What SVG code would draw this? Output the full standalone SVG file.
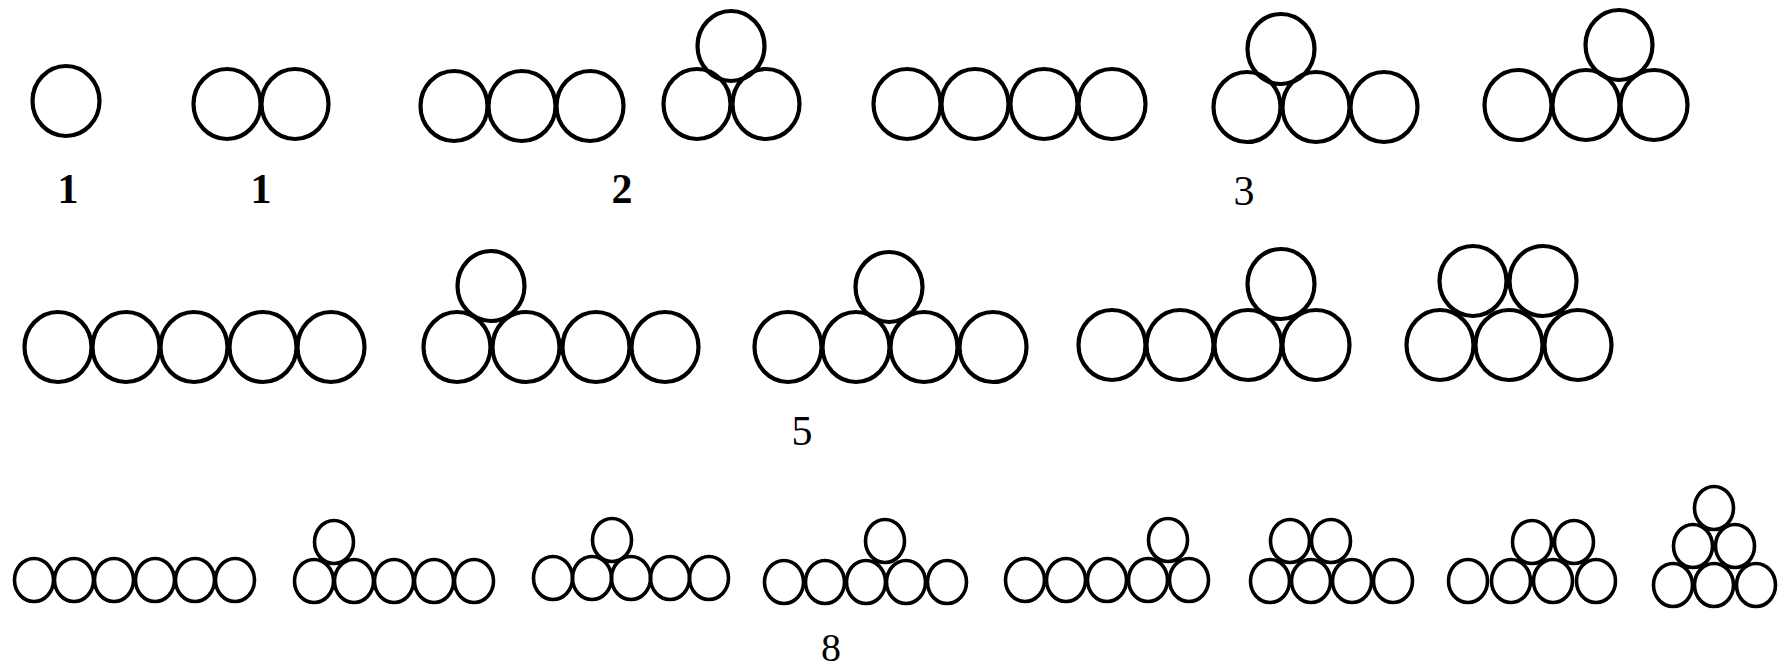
<svg xmlns="http://www.w3.org/2000/svg" xmlns:xlink="http://www.w3.org/1999/xlink" width="1779" height="672" viewBox="0 0 1779 672">
<style>
.c{fill:none;stroke:#000;stroke-width:4.2}
.s{fill:none;stroke:#000;stroke-width:3.6}
.lab{font-family:"Liberation Serif","DejaVu Serif",serif;font-size:42px;fill:#000;text-anchor:middle}
.bd{font-weight:bold}
</style>
<defs>
<ellipse id="B" class="c" cx="0" cy="0" rx="33.5" ry="35"/>
<ellipse id="S" class="s" cx="0" cy="0" rx="19.5" ry="21.5"/>
</defs>
<rect width="1779" height="672" fill="#fff"/>
<g id="n1"><use href="#B" x="66" y="101"/></g>
<g id="n2"><use href="#B" x="227" y="104"/><use href="#B" x="295" y="104"/></g>
<g id="n3"><use href="#B" x="454" y="106"/><use href="#B" x="522" y="106"/><use href="#B" x="590" y="106"/></g>
<g id="n4"><use href="#B" x="697" y="104"/><use href="#B" x="766" y="104"/><use href="#B" x="731" y="46"/></g>
<g id="n5"><use href="#B" x="907" y="104"/><use href="#B" x="975" y="104"/><use href="#B" x="1044" y="104"/><use href="#B" x="1112" y="104"/></g>
<g id="n6"><use href="#B" x="1247" y="107"/><use href="#B" x="1316" y="107"/><use href="#B" x="1384" y="107"/><use href="#B" x="1281" y="49"/></g>
<g id="n7"><use href="#B" x="1518" y="105"/><use href="#B" x="1586" y="105"/><use href="#B" x="1654" y="105"/><use href="#B" x="1619" y="45"/></g>
<g id="n8"><use href="#B" x="58" y="347"/><use href="#B" x="126" y="347"/><use href="#B" x="194" y="347"/><use href="#B" x="263" y="347"/><use href="#B" x="331" y="347"/></g>
<g id="n9"><use href="#B" x="457" y="347"/><use href="#B" x="526" y="347"/><use href="#B" x="596" y="347"/><use href="#B" x="665" y="347"/><use href="#B" x="491" y="286"/></g>
<g id="n10"><use href="#B" x="788" y="347"/><use href="#B" x="856" y="347"/><use href="#B" x="924" y="347"/><use href="#B" x="993" y="347"/><use href="#B" x="889" y="287"/></g>
<g id="n11"><use href="#B" x="1112" y="345"/><use href="#B" x="1180" y="345"/><use href="#B" x="1248" y="345"/><use href="#B" x="1316" y="345"/><use href="#B" x="1281" y="284"/></g>
<g id="n12"><use href="#B" x="1440" y="345"/><use href="#B" x="1509" y="345"/><use href="#B" x="1578" y="345"/><use href="#B" x="1473" y="281"/><use href="#B" x="1543" y="281"/></g>
<g id="n13"><use href="#S" x="34" y="580"/><use href="#S" x="74" y="580"/><use href="#S" x="114" y="580"/><use href="#S" x="155" y="580"/><use href="#S" x="195" y="580"/><use href="#S" x="235" y="580"/></g>
<g id="n14"><use href="#S" x="314" y="581"/><use href="#S" x="354" y="581"/><use href="#S" x="394" y="581"/><use href="#S" x="434" y="581"/><use href="#S" x="474" y="581"/><use href="#S" x="334" y="542"/></g>
<g id="n15"><use href="#S" x="553" y="578"/><use href="#S" x="592" y="578"/><use href="#S" x="631" y="578"/><use href="#S" x="670" y="578"/><use href="#S" x="709" y="578"/><use href="#S" x="612" y="540"/></g>
<g id="n16"><use href="#S" x="784" y="582"/><use href="#S" x="825" y="582"/><use href="#S" x="866" y="582"/><use href="#S" x="906" y="582"/><use href="#S" x="947" y="582"/><use href="#S" x="885" y="541"/></g>
<g id="n17"><use href="#S" x="1025" y="580"/><use href="#S" x="1066" y="580"/><use href="#S" x="1107" y="580"/><use href="#S" x="1148" y="580"/><use href="#S" x="1189" y="580"/><use href="#S" x="1168" y="540"/></g>
<g id="n18"><use href="#S" x="1270" y="581"/><use href="#S" x="1311" y="581"/><use href="#S" x="1352" y="581"/><use href="#S" x="1393" y="581"/><use href="#S" x="1290" y="541"/><use href="#S" x="1331" y="541"/></g>
<g id="n19"><use href="#S" x="1468" y="581"/><use href="#S" x="1511" y="581"/><use href="#S" x="1553" y="581"/><use href="#S" x="1596" y="581"/><use href="#S" x="1532" y="542"/><use href="#S" x="1574" y="542"/></g>
<g id="n20"><use href="#S" x="1673" y="585"/><use href="#S" x="1714" y="585"/><use href="#S" x="1756" y="585"/><use href="#S" x="1693" y="546"/><use href="#S" x="1735" y="546"/><use href="#S" x="1714" y="508"/></g>
<g id="labels">
<text class="lab bd" x="68" y="203">1</text>
<text class="lab bd" x="261" y="203">1</text>
<text class="lab bd" x="622" y="203">2</text>
<text class="lab" x="1244" y="205">3</text>
<text class="lab" x="802" y="445">5</text>
<text class="lab" x="831" y="661" style="font-size:40px">8</text>
</g>
</svg>
